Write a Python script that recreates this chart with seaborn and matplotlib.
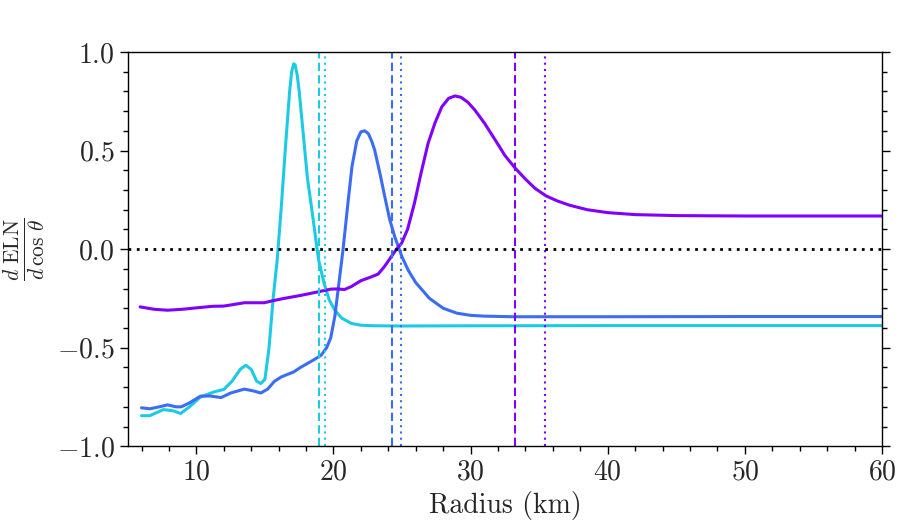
import numpy as np
import pandas as pd
import matplotlib
matplotlib.use("Agg")
import matplotlib.pyplot as plt
from matplotlib.ticker import MultipleLocator
import seaborn as sns

# ---- data ----
cyan_r = [6.0, 6.6, 7.6, 8.3, 8.85, 9.5, 10.3, 11.3, 12.0, 12.6, 13.2, 13.6, 14.0, 14.4, 14.7,
          15.0, 15.3, 15.6, 15.9, 16.2, 16.5, 16.8, 16.95, 17.1, 17.2, 17.35, 17.5, 17.8, 18.1,
          18.5, 18.9, 19.3, 19.7, 20.1, 20.6, 21.3, 22.0, 23.0, 25.0, 30.0, 40.0, 50.0, 60.0]
cyan_v = [-0.845, -0.845, -0.814, -0.82, -0.834, -0.80, -0.75, -0.724, -0.712, -0.67, -0.61, -0.589,
          -0.61, -0.67, -0.682, -0.66, -0.50, -0.25, -0.05, 0.22, 0.52, 0.80, 0.90, 0.94, 0.935,
          0.885, 0.80, 0.58, 0.36, 0.16, -0.05, -0.17, -0.26, -0.31, -0.35, -0.377, -0.386,
          -0.389, -0.39, -0.389, -0.388, -0.388, -0.388]

blue_r = [6.0, 6.6, 7.3, 7.9, 8.5, 8.9, 9.5, 10.3, 11.0, 11.8, 12.5, 13.5, 14.2, 14.7, 15.2,
          15.7, 16.2, 17.1, 17.6, 18.1, 18.6, 19.1, 19.5, 19.8, 20.1, 20.4, 20.7, 21.05, 21.35,
          21.7, 22.0, 22.28, 22.55, 22.8, 23.0, 23.4, 23.74, 24.1, 24.47, 25.0, 25.45, 26.0,
          27.0, 28.0, 29.0, 30.0, 31.0, 33.0, 40.0, 50.0, 60.0]
blue_v = [-0.805, -0.81, -0.80, -0.79, -0.80, -0.80, -0.78, -0.746, -0.745, -0.753, -0.73, -0.71,
          -0.72, -0.73, -0.71, -0.67, -0.648, -0.623, -0.60, -0.58, -0.56, -0.538, -0.50, -0.45,
          -0.34, -0.17, 0.0, 0.232, 0.42, 0.55, 0.595, 0.60, 0.585, 0.545, 0.503, 0.38, 0.266,
          0.15, 0.062, -0.04, -0.107, -0.17, -0.25, -0.30, -0.325, -0.336, -0.34, -0.343,
          -0.343, -0.342, -0.342]

purple_r = [5.9, 6.9, 7.9, 9.0, 10.3, 11.2, 12.0, 12.8, 13.5, 14.2, 14.95, 15.7, 16.4, 17.6,
            18.86, 19.8, 20.3, 20.8, 21.3, 22.0, 22.6, 23.25, 23.7, 24.2, 24.6, 24.96, 25.4,
            25.9, 26.4, 26.9, 27.4, 27.9, 28.4, 28.86, 29.3, 29.8, 30.3, 31.0, 31.8, 32.5,
            33.26, 34.0, 34.7, 35.5, 36.3, 37.2, 38.5, 40.0, 42.0, 45.0, 50.0, 55.0, 60.0]
purple_v = [-0.293, -0.305, -0.31, -0.305, -0.296, -0.29, -0.289, -0.28, -0.272, -0.272, -0.272,
            -0.26, -0.25, -0.235, -0.217, -0.203, -0.202, -0.205, -0.19, -0.16, -0.145, -0.127,
            -0.09, -0.04, 0.0, 0.029, 0.10, 0.232, 0.39, 0.537, 0.64, 0.722, 0.765, 0.777, 0.77,
            0.745, 0.706, 0.64, 0.553, 0.475, 0.41, 0.355, 0.308, 0.27, 0.245, 0.223, 0.20,
            0.185, 0.175, 0.17, 0.168, 0.168, 0.168]

series_names = ["cyan", "blue", "purple"]
series_colors = {"cyan": "#1ccbe3", "blue": "#3b6cf6", "purple": "#8000ff"}
dashed_r = {"cyan": 18.95, "blue": 24.3, "purple": 33.25}
dotted_r = {"cyan": 19.4, "blue": 24.95, "purple": 35.45}

frames = []
for name, r, v in [("cyan", cyan_r, cyan_v), ("blue", blue_r, blue_v), ("purple", purple_r, purple_v)]:
    frames.append(pd.DataFrame({"r": r, "v": v, "s": name}))
df = pd.concat(frames, ignore_index=True)

sns.set_style("ticks")
plt.rcParams.update({
    "font.family": "serif",
    "font.serif": ["cmr10", "DejaVu Serif"],
    "mathtext.fontset": "cm",
    "axes.formatter.use_mathtext": True,
    "font.size": 20,
    "axes.unicode_minus": True,
})

fig = plt.figure(figsize=(9, 5.25), dpi=100)
ax = fig.add_axes([0.142, 0.150, 0.838, 0.751])

sns.lineplot(data=df, x="r", y="v", hue="s", palette=series_colors,
             hue_order=series_names, linewidth=2.2, legend=False, ax=ax, sort=False,
             estimator=None)
for line in ax.get_lines():
    line.set_solid_joinstyle("round")
    line.set_solid_capstyle("round")

for name in series_names:
    ax.axvline(dashed_r[name], color=series_colors[name], ls=(0, (4, 2)), lw=1.5)
    ax.axvline(dotted_r[name], color=series_colors[name], ls=(0, (1, 2)), lw=1.5)
ax.axhline(0.0, color="black", ls=(0, (1, 2)), lw=2.0)

ax.set_xlim(5, 60)
ax.set_ylim(-1.0, 1.0)
ax.xaxis.set_major_locator(MultipleLocator(10))
ax.xaxis.set_minor_locator(MultipleLocator(2))
ax.yaxis.set_major_locator(MultipleLocator(0.5))
ax.yaxis.set_minor_locator(MultipleLocator(0.1))
ax.tick_params(which="both", direction="out", left=True, right=True, bottom=True, top=False,
               labelsize=20, width=1.0, color="black")
ax.tick_params(which="major", length=6)
ax.tick_params(which="minor", length=3.5)
for sp in ax.spines.values():
    sp.set_linewidth(1.0)
    sp.set_color("black")

ax.set_xlabel("Radius (km)", fontsize=20, labelpad=4)
ax.set_ylabel(r"$\frac{d\ \mathrm{ELN}}{d\,\cos\,\theta}$", fontsize=22, labelpad=6)

fig.savefig("out.png", dpi=100)
